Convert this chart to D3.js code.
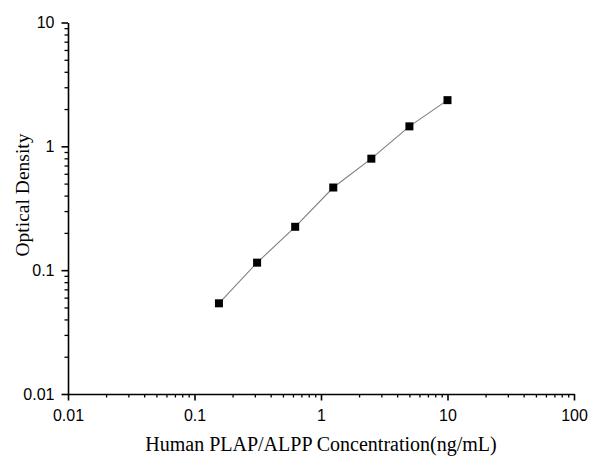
<!DOCTYPE html>
<html><head><meta charset="utf-8">
<script src="https://cdn.jsdelivr.net/npm/d3@7"></script>
<style>body{margin:0;background:#fff}svg{display:block}</style>
</head><body>
<svg id="c" width="600" height="466"></svg>
<script>
const concentrations = [0.156, 0.3125, 0.625, 1.25, 2.5, 5, 10];
const odValues = [0.054, 0.115, 0.224, 0.465, 0.795, 1.45, 2.36];
const xTickValues = [0.01, 0.1, 1, 10, 100];
const yTickValues = [0.01, 0.1, 1, 10];
const xTitle = "Human PLAP/ALPP Concentration(ng/mL)";
const yTitle = "Optical Density";

const svg = d3.select("#c");
const L = 68, R = 574, T = 22.5, B = 394;
const x = d3.scaleLog().domain([0.01, 100]).range([L, R]);
const y = d3.scaleLog().domain([0.01, 10]).range([B, T]);

function minorTicks(dom){
  const out=[];
  for(let e=Math.log10(dom[0]); e<Math.log10(dom[1]); e++){
    for(let k=2;k<=9;k++) out.push(k*Math.pow(10,e));
  }
  return out;
}

// minor ticks
svg.append("g").attr("transform",`translate(0,${B})`)
  .call(d3.axisBottom(x).tickValues(minorTicks(x.domain())).tickSize(3.5).tickFormat(""))
  .call(g=>g.select(".domain").remove())
  .selectAll("line").attr("stroke","#000").attr("stroke-width",1.3);
svg.append("g").attr("transform",`translate(${L},0)`)
  .call(d3.axisLeft(y).tickValues(minorTicks(y.domain())).tickSize(3.5).tickFormat(""))
  .call(g=>g.select(".domain").remove())
  .selectAll("line").attr("stroke","#000").attr("stroke-width",1.3);

// major axes
const xa = svg.append("g").attr("transform",`translate(0,${B})`)
  .call(d3.axisBottom(x).tickValues(xTickValues).tickSize(6.5).tickSizeOuter(0).tickPadding(9).tickFormat(d=>String(d)));
const ya = svg.append("g").attr("transform",`translate(${L},0)`)
  .call(d3.axisLeft(y).tickValues(yTickValues).tickSize(6.5).tickSizeOuter(0).tickPadding(7).tickFormat(d=>String(d)));
[xa,ya].forEach(g=>{
  g.select(".domain").attr("stroke","#000").attr("stroke-width",1.6);
  g.selectAll(".tick line").attr("stroke","#000").attr("stroke-width",1.6);
  g.selectAll(".tick text").attr("fill","#000").style("font-family","Arial, 'Liberation Sans', sans-serif").style("font-size","16px");
});

// line
svg.append("path").datum(concentrations.map((c,i)=>[c,odValues[i]]))
  .attr("fill","none").attr("stroke","#7f7f7f").attr("stroke-width",1.1)
  .attr("d", d3.line().x(d=>x(d[0])).y(d=>y(d[1])));

// markers
svg.selectAll("rect.pt").data(concentrations.map((c,i)=>[c,odValues[i]])).enter()
  .append("rect").attr("class","pt")
  .attr("x",d=>x(d[0])-4).attr("y",d=>y(d[1])-4).attr("width",8).attr("height",8).attr("fill","#000");

// titles
svg.append("text").attr("x",321).attr("y",451).attr("text-anchor","middle")
  .style("font-family","'Liberation Serif','Times New Roman',serif").style("font-size","20px").text(xTitle);
svg.append("text").attr("transform",`translate(29,195) rotate(-90)`).attr("text-anchor","middle")
  .style("font-family","'Liberation Serif','Times New Roman',serif").style("font-size","19.5px").text(yTitle);
</script>
</body></html>
